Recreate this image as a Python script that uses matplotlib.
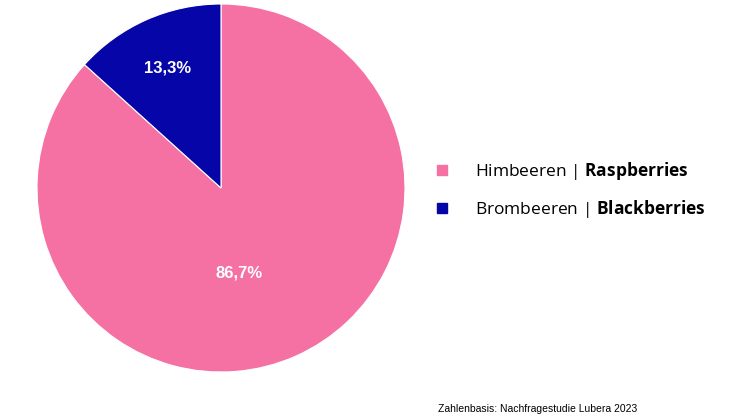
import matplotlib.pyplot as plt
from matplotlib.lines import Line2D

plt.rcParams['font.family'] = ['Liberation Sans', 'DejaVu Sans']
plt.rcParams['mathtext.fontset'] = 'custom'
plt.rcParams['mathtext.rm'] = 'Open Sans'
plt.rcParams['mathtext.bf'] = 'Open Sans:bold'

# data
labels_de = ['Himbeeren', 'Brombeeren']
labels_en = ['Raspberries', 'Blackberries']
shares = [86.7, 13.3]
colors = ['#F571A3', '#0606A8']

fig = plt.figure(figsize=(7.46, 4.2), dpi=100)
ax = fig.add_axes([37/746, 48/420, 368/746, 368/420])

wedges, _ = ax.pie(shares, colors=colors, startangle=90, counterclock=False,
                   radius=1, wedgeprops=dict(linewidth=0.8, edgecolor='white'))
ax.set_xlim(-1, 1)
ax.set_ylim(-1, 1)
ax.set_aspect('equal')

# percentage labels
label_pos = [(0.1, -0.46), (-0.29, 0.65)]
for val, (x, y) in zip(shares, label_pos):
    ax.text(x, y, ('%.1f%%' % val).replace('.', ','), ha='center', va='center',
            color='white', fontsize=12, fontweight='bold')

handles = [Line2D([], [], marker='s', linestyle='none', markersize=7,
                  markerfacecolor=c, markeredgecolor=c) for c in colors]
leg_labels = [r'%s | $\bf{%s}$' % (d, e) for d, e in zip(labels_de, labels_en)]
leg = fig.legend(handles, leg_labels, loc='center left',
                 bbox_to_anchor=(418/746, 1 - 190/420), frameon=False,
                 prop={'family': 'Open Sans', 'size': 12.5},
                 handletextpad=1.4, labelspacing=0.95, handlelength=0.96)

fig.text(438/746, 1 - 409/420, 'Zahlenbasis: Nachfragestudie Lubera 2023',
         fontsize=7.5, va='center', ha='left')

fig.savefig('out.png', dpi=100)
